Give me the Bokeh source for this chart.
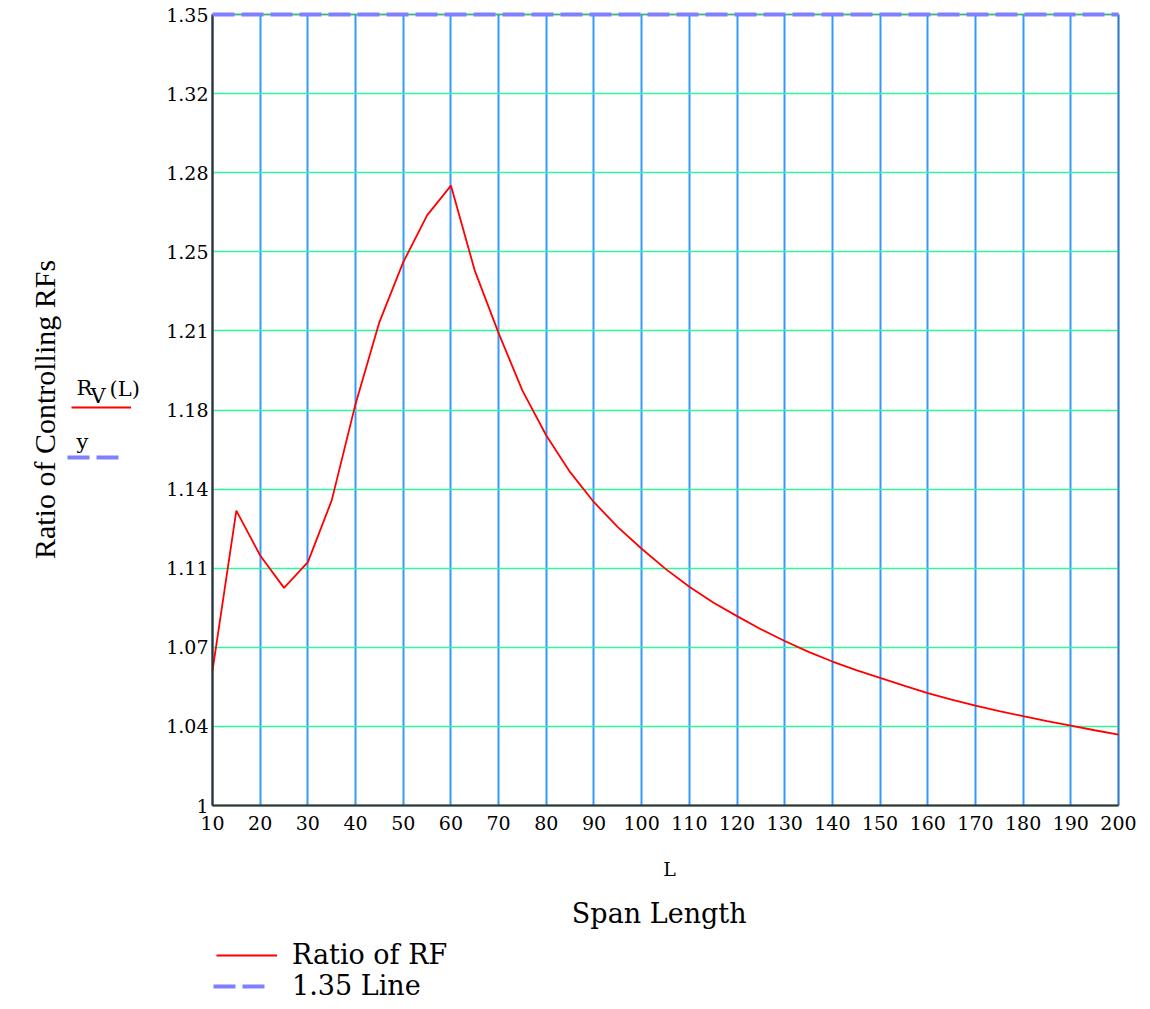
import math
from bokeh.plotting import figure
from bokeh.models import FixedTicker, Label, Legend, LegendItem, Range1d, BoxAnnotation
from bokeh.embed import file_html
from bokeh.resources import INLINE

# ---- data ----
span_L = [10, 15, 20, 25, 30, 35, 40, 45, 50, 55, 60, 65, 70, 75, 80, 85, 90, 95,
          100, 105, 110, 115, 120, 125, 130, 135, 140, 145, 150, 155, 160, 165,
          170, 175, 180, 185, 190, 195, 200]
ratio_rf = [1.0597, 1.1305, 1.1106, 1.0963, 1.1077, 1.1350, 1.1777, 1.2139, 1.2404,
            1.2611, 1.2743, 1.2367, 1.2090, 1.1836, 1.1637, 1.1475, 1.1342, 1.1232,
            1.1136, 1.1047, 1.0968, 1.0898, 1.0838, 1.0780, 1.0728, 1.0680, 1.0637,
            1.0599, 1.0565, 1.0530, 1.0497, 1.0468, 1.0442, 1.0418, 1.0395, 1.0373,
            1.0353, 1.0333, 1.0314]
line_x = [10, 200]
line_y = [1.35, 1.35]

x_ticks = [10, 20, 30, 40, 50, 60, 70, 80, 90, 100, 110, 120, 130, 140, 150,
           160, 170, 180, 190, 200]
y_ticks = [1.0, 1.035, 1.07, 1.105, 1.14, 1.175, 1.21, 1.245, 1.28, 1.315, 1.35]
y_tick_labels = ["1", "1.04", "1.07", "1.11", "1.14", "1.18", "1.21", "1.25",
                 "1.28", "1.32", "1.35"]

X_MIN, X_MAX = 10, 200
Y_MIN, Y_MAX = 1.0, 1.35

# ---- layout (pixels) ----
W, H = 1142, 1001
PX_L, PX_R, PX_T, PX_B = 212, 1118, 14, 805   # plot box inside the canvas
ppx = (PX_R - PX_L) / (X_MAX - X_MIN)
ppy = (PX_B - PX_T) / (Y_MAX - Y_MIN)
x_start = X_MIN - PX_L / ppx
x_end = X_MIN + (W - PX_L) / ppx
y_end = Y_MAX + PX_T / ppy
y_start = Y_MIN - (H - PX_B) / ppy


def px2x(px):
    return x_start + px / ppx


def px2y(py):
    return y_end - py / ppy


SERIF = "DejaVu Serif"
RED = "#ff0000"
BLUE_DASH = "#8080ff"

p = figure(width=W, height=H,
           x_range=Range1d(x_start, x_end), y_range=Range1d(y_start, y_end),
           output_backend="svg", toolbar_location=None, min_border=0)
p.min_border_left = p.min_border_right = p.min_border_top = p.min_border_bottom = 0
p.background_fill_color = "white"
p.border_fill_color = "white"
p.outline_line_color = None

# grids, limited to the plot box
p.xgrid.ticker = FixedTicker(ticks=x_ticks)
p.xgrid.grid_line_color = "#3399ff"
p.xgrid.grid_line_width = 2
p.xgrid.bounds = (X_MIN, X_MAX)
p.xgrid.cross_bounds = (Y_MIN, Y_MAX)
p.ygrid.ticker = FixedTicker(ticks=y_ticks)
p.ygrid.grid_line_color = "#33f59a"
p.ygrid.grid_line_width = 1.6
p.ygrid.bounds = (Y_MIN, Y_MAX)
p.ygrid.cross_bounds = (X_MIN, X_MAX)

# axes drawn at fixed locations (they take no border space)
for ax in (p.xaxis[0], p.yaxis[0]):
    ax.major_tick_in = 0
    ax.major_tick_out = 0
    ax.minor_tick_in = 0
    ax.minor_tick_out = 0
    ax.axis_line_color = "#333333"
    ax.axis_line_width = 2
    ax.major_label_text_font = SERIF
    ax.major_label_text_font_size = "19px"
    ax.major_label_text_color = "#000000"

p.xaxis.ticker = FixedTicker(ticks=x_ticks)
p.xaxis.fixed_location = Y_MIN
p.xaxis.bounds = (X_MIN, X_MAX)
p.xaxis.major_label_standoff = 10
p.yaxis.ticker = FixedTicker(ticks=y_ticks)
p.yaxis.fixed_location = X_MIN
p.yaxis.bounds = (Y_MIN, Y_MAX)
p.yaxis.major_label_overrides = {t: s for t, s in zip(y_ticks, y_tick_labels)}
p.yaxis.major_label_standoff = 4

# plot box border
p.add_layout(BoxAnnotation(left=X_MIN, right=X_MAX, bottom=Y_MIN, top=Y_MAX,
                           fill_alpha=0, line_color="#333333", line_width=2))

# series
r_red = p.line(span_L, ratio_rf, line_color=RED, line_width=1.8)
r_blue = p.line(line_x, line_y, line_color=BLUE_DASH, line_width=4,
                line_dash="22 7", level="overlay")


def legend(label, renderer, vx, vy, glyph_w, standoff, size="27px"):
    lg = Legend(items=[LegendItem(label=label, renderers=[renderer])],
                location=(vx, vy), padding=0, margin=0,
                border_line_alpha=0, background_fill_alpha=0,
                glyph_width=glyph_w, glyph_height=30, label_height=30, spacing=0,
                label_standoff=standoff, label_text_font=SERIF,
                label_text_font_size=size, label_text_color="#000000")
    p.add_layout(lg)


# bottom legend (location = bottom-left corner, screen px from canvas bottom-left)
legend("Ratio of RF", r_red, 216, H - 970, 61, 15)
legend("1.35 Line", r_blue, 213, 0, 52, 27)

# legend samples next to the y axis
legend("", r_red, 71, H - 422, 60, 0)
legend("", r_blue, 67, H - 472, 53, 0)


def lab(text, px, py, size, font=SERIF, align="left", angle=0.0):
    p.add_layout(Label(x=px2x(px), y=px2y(py), text=text,
                       text_font=font, text_font_size=size, text_color="#000000",
                       text_align=align, text_baseline="alphabetic", angle=angle))


lab("R", 76, 387, "21px")
lab("V", 90, 395, "21px")
lab("(L)", 109, 388, "21px")
lab("y", 76, 441, "21px")
lab("Ratio of Controlling RFs", 44, 409, "30px", font="Liberation Serif",
    align="center", angle=math.pi / 2)
lab("L", 669, 868, "19px", align="center")
lab("Span  Length", 663, 913, "27px", align="center")

open("out.html", "w").write(file_html(p, INLINE))
